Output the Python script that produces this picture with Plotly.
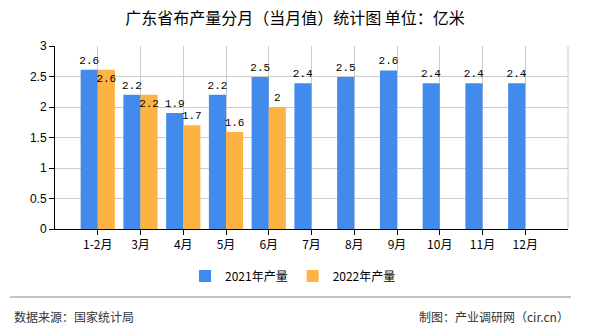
import plotly.graph_objects as go

months = ["1-2月", "3月", "4月", "5月", "6月", "7月", "8月", "9月", "10月", "11月", "12月"]
prod_2021 = [2.61, 2.2, 1.9, 2.2, 2.49, 2.39, 2.49, 2.6, 2.39, 2.39, 2.39]
prod_2022 = [2.61, 2.2, 1.7, 1.59, 2.0, None, None, None, None, None, None]
labels_2021 = ["2.6", "2.2", "1.9", "2.2", "2.5", "2.4", "2.5", "2.6", "2.4", "2.4", "2.4"]
labels_2022 = ["2.6", "2.2", "1.7", "1.6", "2", "", "", "", "", "", ""]

BLUE = "#428BEC"
ORANGE = "#FDB342"
CJK = "Noto Sans CJK SC"
MONO = "Liberation Mono"

# orange labels that would clash with the blue ones sit inside the bar top
pos_2022 = ["inside" if (b is not None and a is not None and abs(a - b) < 0.05) else "outside"
            for a, b in zip(prod_2021, prod_2022)]

fig = go.Figure()
fig.add_trace(go.Bar(
    x=months, y=prod_2021, name="2021年产量", marker=dict(color=BLUE, line=dict(width=0)),
    text=labels_2021, textposition="outside", textangle=0,
    textfont=dict(family=MONO, size=11, color="#000"),
    cliponaxis=False,
))
fig.add_trace(go.Bar(
    x=months, y=prod_2022, name="2022年产量", marker=dict(color=ORANGE, line=dict(width=0)),
    text=labels_2022, textposition=pos_2022, insidetextanchor="end", textangle=0,
    textfont=dict(family=MONO, size=11, color="#000"),
    cliponaxis=False,
))

fig.update_layout(
    width=590, height=330,
    margin=dict(l=55, r=22, t=46, b=101),
    paper_bgcolor="white", plot_bgcolor="white",
    barmode="group", bargap=0.2, bargroupgap=0,
    title=dict(text="广东省布产量分月（当月值）统计图 单位：亿米",
               x=0.5, xanchor="center", y=1 - 18 / 330, yanchor="middle",
               xref="container", yref="container",
               font=dict(family=CJK, size=16, color="#000")),
    legend=dict(orientation="h", x=(293 - 55) / 513, xanchor="center",
                y=(229 - 276) / 183, yanchor="middle",
                font=dict(family=CJK, size=12, color="#000"),
                itemwidth=30, traceorder="normal"),
    showlegend=True,
)
fig.update_traces(constraintext="none")

fig.update_xaxes(
    type="category", range=[-1, 11],
    showgrid=True, gridcolor="#cccccc", gridwidth=1,
    showline=True, linecolor="#000", linewidth=1,
    ticks="outside", ticklen=5, tickcolor="#000",
    tickfont=dict(family=CJK, size=12, color="#000"),
    zeroline=False,
)
fig.update_yaxes(
    range=[0, 3], dtick=0.5, tick0=0,
    showgrid=True, gridcolor="#cccccc", gridwidth=1,
    showline=True, linecolor="#000", linewidth=1,
    ticks="outside", ticklen=5, tickcolor="#000",
    tickfont=dict(family="Liberation Sans", size=12, color="#000"),
    zeroline=False,
)

# right border of plot area
fig.add_shape(type="line", xref="paper", yref="paper", x0=1, x1=1, y0=0, y1=1,
              line=dict(color="#cccccc", width=1))
# footer separator
fig.add_shape(type="line", xref="paper", yref="paper",
              x0=(10 - 55) / 513, x1=(571 - 55) / 513,
              y0=(229 - 297) / 183, y1=(229 - 297) / 183,
              line=dict(color="#888888", width=1))
fig.add_annotation(text="数据来源：国家统计局", xref="paper", yref="paper",
                   x=(12 - 55) / 513, y=(229 - 316) / 183,
                   xanchor="left", yanchor="middle", showarrow=False,
                   font=dict(family=CJK, size=12, color="#333"))
fig.add_annotation(text="制图：产业调研网（cir.cn）", xref="paper", yref="paper",
                   x=(571 - 55) / 513, y=(229 - 316) / 183,
                   xanchor="right", yanchor="middle", showarrow=False,
                   font=dict(family=CJK, size=12, color="#333"))

fig.write_html("out.html")
